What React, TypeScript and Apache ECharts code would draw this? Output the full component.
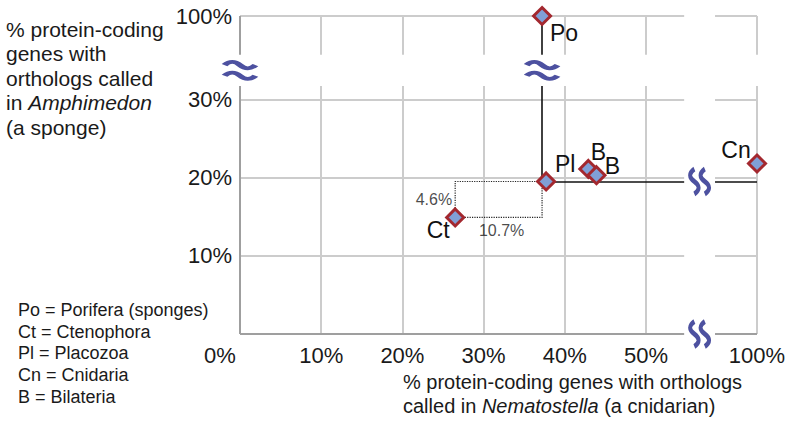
import React, { useEffect, useRef } from "react";
import * as echarts from "echarts";

// ---- data ----
const taxa = ["Po", "Ct", "Pl", "B", "B", "Cn"];
const xValues = [37.2, 26.5, 37.7, 42.9, 43.9, 100]; // % Nematostella orthologs
const yValues = [100, 14.9, 19.5, 21.1, 20.3, 21.8]; // % Amphimedon orthologs
const labelOffsets = [[22, 17], [-17, 13], [19, -17], [10, -17], [16, -9], [-21, -14]];
const ctToPlDiff = [10.7, 4.6]; // [x diff, y diff]
const xTicks = [0, 10, 20, 30, 40, 50, 100];
const xTickLabels = ["0%", "10%", "20%", "30%", "40%", "50%", "100%"];
const yTicks = [10, 20, 30, 100];
const yTickLabels = ["10%", "20%", "30%", "100%"];
const legendLines = [
  "Po = Porifera (sponges)",
  "Ct = Ctenophora",
  "Pl = Placozoa",
  "Cn = Cnidaria",
  "B = Bilateria",
];

// ---- broken-axis scale ----
const X_SPLIT = 50, X_MAX = 63.67, XB0 = 54.7, XB1 = 58.5;
const Y_SPLIT = 30, Y_MAX = 40.66, YB0 = 31.7, YB1 = 35.7;
const fx = (v: number) => (v <= X_SPLIT ? v : X_SPLIT + ((v - X_SPLIT) * (X_MAX - X_SPLIT)) / (100 - X_SPLIT));
const fy = (v: number) => (v <= Y_SPLIT ? v : Y_SPLIT + ((v - Y_SPLIT) * (Y_MAX - Y_SPLIT)) / (100 - Y_SPLIT));

const FONT = "'Liberation Sans', Arial, Helvetica, sans-serif";
const BLUE = "#4d51a0";

export default function App() {
  const ref = useRef<HTMLDivElement>(null);
  useEffect(() => {
    if (!ref.current) return;
    const chart = echarts.init(ref.current, undefined, { renderer: "svg" });

    const grid: any[] = [];
    xTicks.slice(1).forEach((t) => {
      const x = fx(t);
      grid.push({ coords: [[x, 0], [x, YB0]] }, { coords: [[x, YB1], [x, Y_MAX]] });
    });
    yTicks.forEach((t) => {
      const y = fy(t);
      grid.push({ coords: [[0, y], [XB0, y]] }, { coords: [[XB1, y], [X_MAX, y]] });
    });
    const axes = [
      { coords: [[0, 0], [0, YB0]] },
      { coords: [[0, YB1], [0, Y_MAX]] },
      { coords: [[0, 0], [XB0, 0]] },
      { coords: [[XB1, 0], [X_MAX, 0]] },
    ];
    const po = [fx(xValues[0]), fy(yValues[0])];
    const plY = fy(yValues[2]);
    const black = [
      { coords: [[po[0], plY], [po[0], YB0]] },
      { coords: [[po[0], YB1], po] },
      { coords: [[po[0], plY], [XB0, plY]] },
      { coords: [[XB1, plY], [fx(100), plY]] },
    ];
    const ct = [fx(xValues[1]), fy(yValues[1])];
    const rx = ct[0] + ctToPlDiff[0];
    const ry = ct[1] + ctToPlDiff[1];
    const rect = [{ coords: [ct, [rx, ct[1]], [rx, ry], [ct[0], ry], ct] }];

    const points = taxa.map((t, i) => ({
      value: [fx(xValues[i]), fy(yValues[i])],
      label: { show: true, formatter: t, position: "inside", offset: labelOffsets[i] },
    }));

    const approxPath =
      "path://M0 3 C6 -1 12 -1 18 3 C24 7 30 7 36 3 M0 13 C6 9 12 9 18 13 C24 17 30 17 36 13";
    const wavePath =
      "path://M4.5 0 C-1.5 4 -1.5 8 4.5 12 C10.5 16 10.5 20 4.5 24 M15.5 0 C9.5 4 9.5 8 15.5 12 C21.5 16 21.5 20 15.5 24";
    const yMid = (YB0 + YB1) / 2;
    const xMid = (XB0 + XB1) / 2;

    const findLabel = (ticks: number[], labels: string[], f: (v: number) => number, v: number) => {
      for (let i = 0; i < ticks.length; i++) if (Math.abs(f(ticks[i]) - v) < 1e-6) return labels[i];
      return "";
    };

    chart.setOption({
      animation: false,
      backgroundColor: "#ffffff",
      grid: { left: 240, top: 16, width: 517, height: 318 },
      xAxis: {
        type: "value",
        min: 0,
        max: X_MAX,
        axisLine: { show: false },
        axisTick: { show: false },
        splitLine: { show: false },
        axisLabel: {
          customValues: xTicks.map(fx),
          showMinLabel: true,
          showMaxLabel: true,
          margin: 10,
          fontSize: 22,
          fontFamily: FONT,
          color: "#1a1a1a",
          formatter: (v: number) => {
            const s = findLabel(xTicks, xTickLabels, fx, v);
            return v === 0 ? "{o|" + s + "}" : s;
          },
          rich: { o: { fontSize: 22, fontFamily: FONT, color: "#1a1a1a", padding: [0, 40, 0, 0] } },
        },
      },
      yAxis: {
        type: "value",
        min: 0,
        max: Y_MAX,
        axisLine: { show: false },
        axisTick: { show: false },
        splitLine: { show: false },
        axisLabel: {
          customValues: yTicks.map(fy),
          showMinLabel: true,
          showMaxLabel: true,
          margin: 8,
          fontSize: 22,
          fontFamily: FONT,
          color: "#1a1a1a",
          formatter: (v: number) => findLabel(yTicks, yTickLabels, fy, v),
        },
      },
      series: [
        {
          type: "lines",
          coordinateSystem: "cartesian2d",
          silent: true,
          z: 1,
          lineStyle: { color: "#cccccc", width: 2, opacity: 1 },
          data: grid,
        },
        {
          type: "lines",
          coordinateSystem: "cartesian2d",
          silent: true,
          z: 2,
          lineStyle: { color: "#9f9f9f", width: 2, opacity: 1 },
          data: axes,
        },
        {
          type: "lines",
          coordinateSystem: "cartesian2d",
          silent: true,
          z: 3,
          lineStyle: { color: "#111111", width: 1.6, opacity: 1 },
          data: black,
        },
        {
          type: "lines",
          coordinateSystem: "cartesian2d",
          polyline: true,
          silent: true,
          z: 3,
          lineStyle: { color: "#222222", width: 1.2, type: "dotted", opacity: 1 },
          data: rect,
        },
        {
          type: "scatter",
          silent: true,
          z: 4,
          symbolSize: 0,
          label: { show: true, fontSize: 16, fontFamily: FONT, color: "#1a1a1a" },
          data: [
            { value: [ct[0], (ct[1] + ry) / 2], label: { formatter: ctToPlDiff[1] + "%", position: "left", distance: 3 } },
            { value: [(ct[0] + rx) / 2, ct[1]], label: { formatter: ctToPlDiff[0] + "%", position: "inside", offset: [3, 13] } },
          ],
        },
        {
          type: "scatter",
          clip: false,
          z: 5,
          symbol: "diamond",
          symbolSize: 17,
          itemStyle: { color: "#809fd6", borderColor: "#a3282f", borderWidth: 3, opacity: 1 },
          label: { fontSize: 23, fontFamily: FONT, color: "#111111", align: "center", verticalAlign: "middle" },
          data: points,
        },
        {
          type: "scatter",
          clip: false,
          silent: true,
          z: 6,
          symbol: approxPath,
          symbolSize: [31, 17],
          itemStyle: { color: "rgba(0,0,0,0)", borderColor: BLUE, borderWidth: 5, opacity: 1 },
          data: [[0, yMid], [po[0], yMid]],
        },
        {
          type: "scatter",
          clip: false,
          silent: true,
          z: 6,
          symbol: wavePath,
          symbolSize: [19, 25],
          itemStyle: { color: "rgba(0,0,0,0)", borderColor: BLUE, borderWidth: 4.5, opacity: 1 },
          data: [[xMid, 0], [xMid, plY]],
        },
      ],
      graphic: [
        {
          type: "text",
          x: 6,
          y: 17,
          style: {
            text: "% protein-coding\ngenes with\northologs called\nin {i|Amphimedon}\n(a sponge)",
            fontSize: 21,
            lineHeight: 24.5,
            fontFamily: FONT,
            fill: "#1a1a1a",
            verticalAlign: "top",
            rich: { i: { fontSize: 21, lineHeight: 24.5, fontFamily: FONT, fontStyle: "italic", fill: "#1a1a1a" } },
          },
        },
        {
          type: "text",
          x: 403,
          y: 370,
          style: {
            text: "% protein-coding genes with orthologs\ncalled in {i|Nematostella} (a cnidarian)",
            fontSize: 20,
            lineHeight: 24,
            fontFamily: FONT,
            fill: "#1a1a1a",
            verticalAlign: "top",
            rich: { i: { fontSize: 20, lineHeight: 24, fontFamily: FONT, fontStyle: "italic", fill: "#1a1a1a" } },
          },
        },
        {
          type: "text",
          x: 18,
          y: 299,
          style: {
            text: legendLines.join("\n"),
            fontSize: 18,
            lineHeight: 21.7,
            fontFamily: FONT,
            fill: "#1a1a1a",
            verticalAlign: "top",
          },
        },
      ],
    });
    return () => chart.dispose();
  }, []);
  return (
    <div
      ref={ref}
      style={{ position: "fixed", left: 0, top: 0, width: 793, height: 421, background: "#fff" }}
    />
  );
}
